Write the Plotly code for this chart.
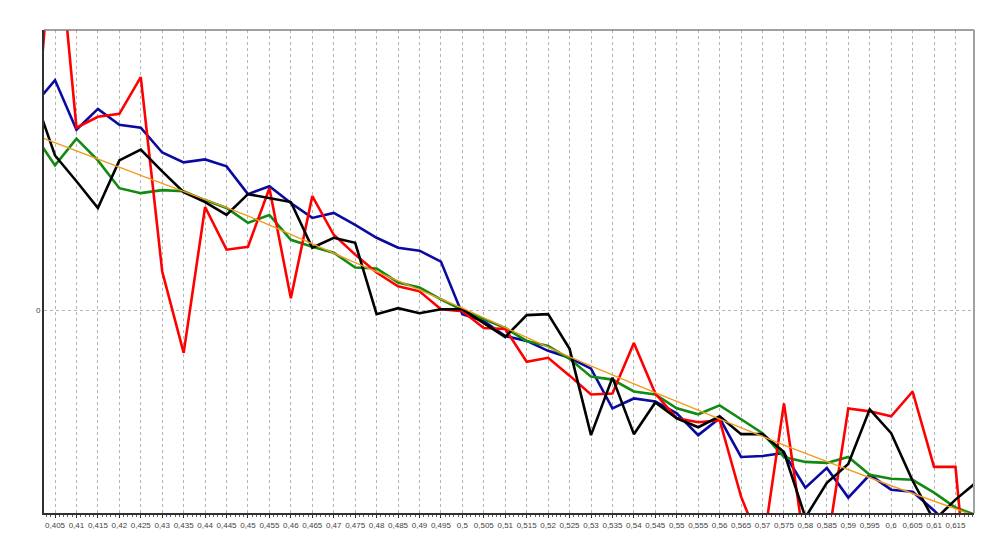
import plotly.graph_objects as go

# x positions (step 0.005)
x_vals = [round(0.400 + 0.005 * i, 3) for i in range(45)]

tick_vals = [round(0.405 + 0.005 * i, 3) for i in range(43)]
tick_text = ["0,405", "0,41", "0,415", "0,42", "0,425", "0,43", "0,435", "0,44", "0,445",
             "0,45", "0,455", "0,46", "0,465", "0,47", "0,475", "0,48", "0,485", "0,49",
             "0,495", "0,5", "0,505", "0,51", "0,515", "0,52", "0,525", "0,53", "0,535",
             "0,54", "0,545", "0,55", "0,555", "0,56", "0,565", "0,57", "0,575", "0,58",
             "0,585", "0,59", "0,595", "0,6", "0,605", "0,61", "0,615"]

blue = [2.06, 2.32, 1.82, 2.03, 1.87, 1.84, 1.59, 1.49, 1.52, 1.45, 1.17, 1.25, 1.08, 0.93, 0.98,
        0.86, 0.73, 0.63, 0.60, 0.49, -0.04, -0.11, -0.26, -0.31, -0.41, -0.48, -0.59, -0.99,
        -0.89, -0.92, -1.04, -1.26, -1.09, -1.48, -1.47, -1.44, -1.79, -1.59, -1.89, -1.66,
        -1.81, -1.83, -2.02, -2.23, -2.38]

red = [1.48, 4.13, 1.84, 1.95, 1.98, 2.35, 0.39, -0.43, 1.04, 0.61, 0.64, 1.23, 0.12, 1.15, 0.76,
       0.56, 0.38, 0.24, 0.19, 0.01, -0.01, -0.18, -0.19, -0.52, -0.48, -0.66, -0.85, -0.84,
       -0.33, -0.84, -1.09, -1.13, -1.11, -1.88, -2.42, -0.94, -2.43, -2.40, -0.99, -1.02,
       -1.07, -0.82, -1.58, -1.58, -3.88]

green = [1.78, 1.46, 1.73, 1.51, 1.23, 1.18, 1.21, 1.20, 1.11, 1.03, 0.88, 0.96, 0.71, 0.64, 0.58,
         0.43, 0.42, 0.28, 0.23, 0.11, 0.00, -0.09, -0.18, -0.31, -0.36, -0.49, -0.67, -0.70,
         -0.82, -0.85, -0.99, -1.05, -0.96, -1.10, -1.24, -1.48, -1.53, -1.54, -1.48, -1.66,
         -1.70, -1.71, -1.84, -1.99, -2.07]

black = [2.18, 1.56, 1.30, 1.03, 1.51, 1.62, 1.40, 1.19, 1.09, 0.96, 1.17, 1.13, 1.09, 0.63, 0.73,
         0.68, -0.04, 0.02, -0.03, 0.01, 0.01, -0.13, -0.27, -0.05, -0.04, -0.39, -1.26, -0.68,
         -1.25, -0.93, -1.09, -1.18, -1.07, -1.25, -1.25, -1.43, -2.09, -1.74, -1.55, -1.00,
         -1.24, -1.72, -2.12, -1.91, -1.73]

# smooth trend line
trend_x = [0.400, 0.425, 0.450, 0.475, 0.500, 0.525, 0.550, 0.575, 0.600, 0.620]
trend_y = [1.77, 1.36, 0.95, 0.48, 0.02, -0.47, -0.92, -1.36, -1.77, -2.08]

fig = go.Figure()

series = [
    (blue, "#0a0aa0"),
    (green, "#108a10"),
    (red, "#ff0000"),
    (black, "#000000"),
]
for ys, col in series:
    fig.add_trace(go.Scatter(x=x_vals, y=ys, mode="lines",
                             line=dict(color=col, width=2.6), hoverinfo="skip"))

fig.add_trace(go.Scatter(x=trend_x, y=trend_y, mode="lines",
                         line=dict(color="#f39a1e", width=1.4, shape="spline", smoothing=0.6),
                         hoverinfo="skip"))

fig.update_layout(
    width=991, height=542,
    margin=dict(l=44, r=17, t=30, b=25),
    paper_bgcolor="white", plot_bgcolor="white",
    showlegend=False,
    separators=",.",
    font=dict(family="Liberation Sans, Arial, sans-serif", size=8, color="#444"),
    xaxis=dict(
        range=[0.40243, 0.61932],
        tickmode="array", tickvals=tick_vals, ticktext=tick_text,
        showgrid=True, gridcolor="#b4b4b4", gridwidth=1, griddash="dot",
        showline=True, linecolor="#303030", linewidth=2,
        ticks="outside", ticklen=3, tickcolor="#303030", tickwidth=1,
        minor=dict(tickmode="linear", tick0=0.4, dtick=0.001, ticks="outside",
                   ticklen=2, tickcolor="#606060", showgrid=False),
        zeroline=False,
        tickfont=dict(size=8, color="#444"),
    ),
    yaxis=dict(
        range=[-2.045, 2.825],
        tickmode="array", tickvals=[0], ticktext=["0"],
        showgrid=True, gridcolor="#b4b4b4", gridwidth=1, griddash="dot",
        showline=True, linecolor="#303030", linewidth=2,
        ticks="", zeroline=False,
        tickfont=dict(size=8, color="#444"),
    ),
    shapes=[
        dict(type="line", xref="paper", yref="paper", x0=0, x1=1, y0=1, y1=1,
             line=dict(color="#808080", width=1.5)),
        dict(type="line", xref="paper", yref="paper", x0=1, x1=1, y0=0, y1=1,
             line=dict(color="#a0a0a0", width=2)),
    ],
)

fig.write_html("out.html", config={"displayModeBar": False})
